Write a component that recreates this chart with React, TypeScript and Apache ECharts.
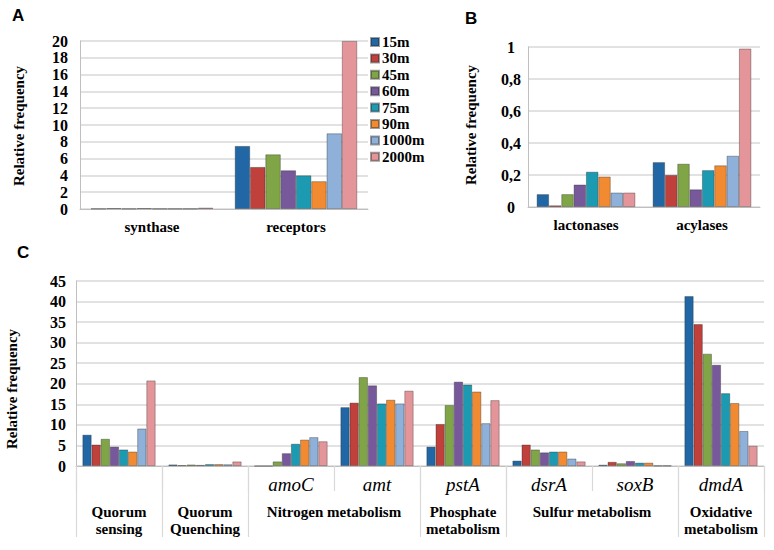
import React, { useEffect, useRef } from "react";
import * as echarts from "echarts";

const depths = ["15m", "30m", "45m", "60m", "75m", "90m", "1000m", "2000m"];
const colors = ["#2267a5", "#c0403c", "#80a546", "#77589a", "#1b9ab2", "#f28a32", "#8fb0d8", "#e49599"];

const catsA = ["synthase", "receptors"];
const synthase = [0.05, 0.1, 0.05, 0.1, 0.05, 0.05, 0.05, 0.15];
const receptors = [7.5, 5.0, 6.5, 4.6, 4.0, 3.3, 9.0, 20];

const catsB = ["lactonases", "acylases"];
const lactonases = [0.08, 0.01, 0.08, 0.14, 0.22, 0.19, 0.09, 0.09];
const acylases = [0.28, 0.2, 0.27, 0.11, 0.23, 0.26, 0.32, 0.99];

const catsC = ["Quorum sensing", "Quorum Quenching", "amoC", "amt", "pstA", "dsrA", "soxB", "dmdA"];
const quorumSensing = [7.6, 5.2, 6.6, 4.7, 4.0, 3.5, 9.1, 20.8];
const quorumQuenching = [0.36, 0.21, 0.35, 0.25, 0.45, 0.45, 0.41, 1.09];
const amoC = [0, 0, 1.1, 3.1, 5.4, 6.4, 7.0, 6.0];
const amt = [14.3, 15.4, 21.6, 19.6, 15.2, 16.1, 15.2, 18.3];
const pstA = [4.7, 10.2, 14.8, 20.5, 19.8, 18.1, 10.4, 16.0];
const dsrA = [1.3, 5.2, 4.0, 3.3, 3.5, 3.5, 1.8, 1.1];
const soxB = [0.3, 1.0, 0.65, 1.2, 0.8, 0.8, 0.1, 0.1];
const dmdA = [41.3, 34.5, 27.3, 24.6, 17.7, 15.3, 8.5, 4.9];

const groupNames = ["Quorum\nsensing", "Quorum\nQuenching", "Nitrogen metabolism", "Phosphate\nmetabolism", "Sulfur metabolism", "Oxidative\nmetabolism"];
const groupCenters = [0.5, 1.5, 3, 4.5, 6, 7.5];
const groupBounds = [0, 1, 2, 4, 5, 7, 8];

const ticksA = { min: 0, max: 20, interval: 2 };
const ticksB = { min: 0, max: 1, interval: 0.2 };
const ticksC = { min: 0, max: 45, interval: 5 };

const SERIF = "Liberation Serif";
const SANS = "Liberation Sans";
const GRID = "#d9d9d9";
const AXIS = "#bfbfbf";

export default function App() {
  const ref = useRef<HTMLDivElement>(null);
  useEffect(() => {
    if (!ref.current) return;
    const chart = echarts.init(ref.current, undefined, { renderer: "svg" });

    const cSeries: number[][] = depths.map((_, i) => [
      quorumSensing[i], quorumQuenching[i], amoC[i], amt[i], pstA[i], dsrA[i], soxB[i], dmdA[i],
    ]);

    const yAxisBase = (gridIndex: number, t: any, extra: any = {}) => ({
      type: "value",
      gridIndex,
      min: t.min,
      max: t.max,
      interval: t.interval,
      axisLine: { show: true, lineStyle: { color: AXIS, width: 1 } },
      axisTick: { show: false },
      splitLine: { show: true, lineStyle: { color: GRID, width: 1.5 } },
      axisLabel: { fontFamily: SERIF, fontWeight: "bold", fontSize: 16, color: "#000", margin: 11, ...extra },
    });

    const barStyle = (i: number) => ({
      color: colors[i],
      borderColor: "rgba(40,40,40,0.45)",
      borderWidth: 0.8,
    });

    const series: any[] = [];
    depths.forEach((d, i) => {
      series.push({
        type: "bar", name: d, xAxisIndex: 0, yAxisIndex: 0,
        data: [synthase[i], receptors[i]],
        barGap: "0%", barCategoryGap: "15%", itemStyle: barStyle(i),
      });
    });
    depths.forEach((d, i) => {
      series.push({
        type: "bar", name: d, xAxisIndex: 1, yAxisIndex: 1,
        data: [lactonases[i], acylases[i]],
        barGap: "0%", barCategoryGap: "15%", itemStyle: barStyle(i),
      });
    });
    depths.forEach((d, i) => {
      series.push({
        type: "bar", name: d, xAxisIndex: 2, yAxisIndex: 2,
        data: cSeries[i],
        barGap: "0%", barCategoryGap: "15%", itemStyle: barStyle(i),
      });
    });

    const catLabel = { fontFamily: SERIF, fontWeight: "bold", fontSize: 15, color: "#000" };

    const option: any = {
      animation: false,
      backgroundColor: "#fff",
      color: colors,
      textStyle: { fontFamily: SERIF },
      legend: {
        data: depths,
        orient: "vertical",
        left: 370,
        top: 34,
        padding: 0,
        itemWidth: 8,
        itemHeight: 8,
        itemGap: 0.4,
        icon: "rect",
        textStyle: { fontFamily: SERIF, fontWeight: "bold", fontSize: 15, color: "#000", lineHeight: 16, padding: [0, 0, 0, -2] },
        selectedMode: false,
      },
      grid: [
        { left: 80, top: 41, width: 288, height: 168 },
        { left: 528, top: 47, width: 232, height: 160 },
        { left: 76, top: 281, width: 688, height: 185 },
      ],
      xAxis: [
        {
          type: "category", gridIndex: 0, data: catsA,
          axisLine: { lineStyle: { color: AXIS } }, axisTick: { show: false },
          axisLabel: { ...catLabel, margin: 10 },
        },
        {
          type: "category", gridIndex: 1, data: catsB,
          axisLine: { lineStyle: { color: AXIS } }, axisTick: { show: false },
          axisLabel: { ...catLabel, margin: 10 },
        },
        {
          type: "category", gridIndex: 2, data: catsC, position: "bottom",
          axisLine: { lineStyle: { color: AXIS } },
          axisTick: { show: true, interval: 0, length: 25, lineStyle: { color: GRID, width: 1.2 } },
          axisLabel: {
            interval: 0, margin: 9,
            fontFamily: SERIF, fontStyle: "italic", fontSize: 19, color: "#000",
            formatter: (v: string) => (v.startsWith("Quorum") ? "" : v),
          },
        },
        {
          type: "value", gridIndex: 2, min: 0, max: 8, position: "bottom",
          axisLine: { show: false },
          splitLine: { show: false },
          axisTick: { show: true, customValues: groupBounds, length: 71, lineStyle: { color: GRID, width: 1.2 } },
          axisLabel: {
            customValues: groupCenters, margin: 37,
            fontFamily: SERIF, fontWeight: "bold", fontSize: 15, lineHeight: 17, color: "#000",
            formatter: (v: number) => {
              const k = groupCenters.indexOf(v);
              return k >= 0 ? groupNames[k] : "";
            },
          },
        },
      ],
      yAxis: [
        yAxisBase(0, ticksA, { margin: 12 }),
        yAxisBase(1, ticksB, { align: "center", margin: 17, formatter: (v: number) => String(+v.toFixed(1)).replace(".", ",") }),
        yAxisBase(2, ticksC, { margin: 10 }),
      ],
      series,
      graphic: [
        { type: "text", left: 12, top: 7, style: { text: "A", fontFamily: SANS, fontWeight: "bold", fontSize: 17, fill: "#000" } },
        { type: "text", left: 465, top: 10, style: { text: "B", fontFamily: SANS, fontWeight: "bold", fontSize: 17, fill: "#000" } },
        { type: "text", left: 17, top: 244, style: { text: "C", fontFamily: SANS, fontWeight: "bold", fontSize: 17, fill: "#000" } },
        {
          type: "text", x: 19, y: 126, rotation: Math.PI / 2,
          style: { text: "Relative frequency", fontFamily: SERIF, fontWeight: "bold", fontSize: 15, fill: "#000", align: "center", verticalAlign: "middle" },
        },
        {
          type: "text", x: 471, y: 125, rotation: Math.PI / 2,
          style: { text: "Relative frequency", fontFamily: SERIF, fontWeight: "bold", fontSize: 15, fill: "#000", align: "center", verticalAlign: "middle" },
        },
        {
          type: "text", x: 12, y: 389, rotation: Math.PI / 2,
          style: { text: "Relative frequency", fontFamily: SERIF, fontWeight: "bold", fontSize: 15, fill: "#000", align: "center", verticalAlign: "middle" },
        },
      ],
    };
    chart.setOption(option);
    return () => chart.dispose();
  }, []);

  return <div ref={ref} style={{ position: "fixed", left: 0, top: 0, width: 774, height: 550 }} />;
}
